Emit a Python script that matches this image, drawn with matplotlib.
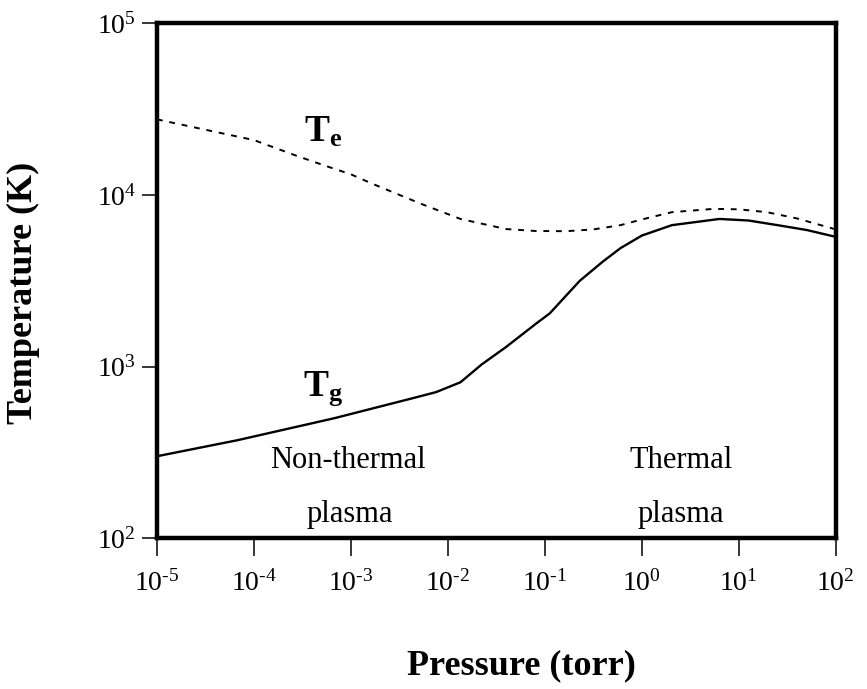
import matplotlib
matplotlib.use("Agg")
import matplotlib.pyplot as plt
from matplotlib.ticker import FixedLocator, FixedFormatter, NullLocator

# values (pressure in torr, temperature in K)
te_pressure = [1e-5, 10**-4.5, 10**-4.0, 10**-3.57, 10**-3.28, 10**-3.0, 10**-2.79,
               10**-2.28, 10**-1.87, 10**-1.40, 10**-1.1, 10**-0.78, 10**-0.5, 10**-0.22,
               10**0.0, 10**0.31, 10**0.74, 10**1.0, 10**1.29, 10**1.6, 1e2]
te_temp = [27600, 24000, 20900, 17000, 14900, 13200, 11700,
           8900, 7250, 6330, 6170, 6150, 6300, 6670,
           7200, 7940, 8300, 8250, 7940, 7300, 6300]

tg_pressure = [1e-5, 10**-4.17, 10**-3.17, 10**-2.38, 10**-2.12, 10**-1.87, 10**-1.65,
               10**-1.40, 10**-1.09, 10**-0.95, 10**-0.64, 10**-0.4, 10**-0.22, 10**0.0,
               10**0.31, 10**0.80, 10**1.1, 10**1.4, 10**1.7, 1e2]
tg_temp = [300, 372, 500, 650, 710, 810, 1030,
           1300, 1780, 2040, 3160, 4100, 4900, 5800,
           6670, 7250, 7100, 6670, 6250, 5700]

x_ticks = [1e-5, 1e-4, 1e-3, 1e-2, 1e-1, 1e0, 1e1, 1e2]
x_labels = [r"$10^{\text{-}5}$", r"$10^{\text{-}4}$", r"$10^{\text{-}3}$", r"$10^{\text{-}2}$",
            r"$10^{\text{-}1}$", r"$10^{0}$", r"$10^{1}$", r"$10^{2}$"]
y_ticks = [1e2, 1e3, 1e4, 1e5]
y_labels = [r"$10^{2}$", r"$10^{3}$", r"$10^{4}$", r"$10^{5}$"]

plt.rcParams["font.family"] = "Liberation Serif"
plt.rcParams["mathtext.fontset"] = "custom"
plt.rcParams["mathtext.rm"] = "Liberation Serif"
plt.rcParams["mathtext.it"] = "Liberation Serif:italic"
plt.rcParams["mathtext.bf"] = "Liberation Serif:bold"

fig = plt.figure(figsize=(8.67, 6.89), dpi=100)
ax = fig.add_axes([0.181, 0.219, 0.783, 0.747])

ax.plot(te_pressure, te_temp, color="black", lw=1.4, dashes=(3, 3.5))
ax.plot(tg_pressure, tg_temp, color="black", lw=1.7)

ax.set_xscale("log")
ax.set_yscale("log")
ax.set_xlim(1e-5, 1e2)
ax.set_ylim(1e2, 1e5)

ax.xaxis.set_major_locator(FixedLocator(x_ticks))
ax.xaxis.set_major_formatter(FixedFormatter(x_labels))
ax.yaxis.set_major_locator(FixedLocator(y_ticks))
ax.yaxis.set_major_formatter(FixedFormatter(y_labels))
ax.xaxis.set_minor_locator(NullLocator())
ax.yaxis.set_minor_locator(NullLocator())

ax.tick_params(axis="x", direction="out", length=13, width=1.1, pad=10, labelsize=20)
ax.tick_params(axis="y", direction="out", length=11, width=1.1, pad=4, labelsize=20)

for spine in ax.spines.values():
    spine.set_linewidth(3.2)

fig.text(0.027, 0.575, "Temperature (K)", rotation=90, ha="center", va="center",
         fontsize=26, fontweight="bold")
fig.text(0.602, 0.033, "Pressure (torr)", ha="center", va="center",
         fontsize=26, fontweight="bold")

ax.text(0.2445, 0.788, r"$\mathbf{T}_{\mathbf{e}}$", transform=ax.transAxes,
        ha="center", va="center", fontsize=27)
ax.text(0.2445, 0.291, r"$\mathbf{T}_{\mathbf{g}}$", transform=ax.transAxes,
        ha="center", va="center", fontsize=27)

ax.text(0.281, 0.151, "Non-thermal", transform=ax.transAxes, ha="center", va="center", fontsize=22)
ax.text(0.284, 0.045, "plasma", transform=ax.transAxes, ha="center", va="center", fontsize=22)
ax.text(0.772, 0.151, "Thermal", transform=ax.transAxes, ha="center", va="center", fontsize=22)
ax.text(0.772, 0.045, "plasma", transform=ax.transAxes, ha="center", va="center", fontsize=22)

fig.savefig("out.png", dpi=100)
